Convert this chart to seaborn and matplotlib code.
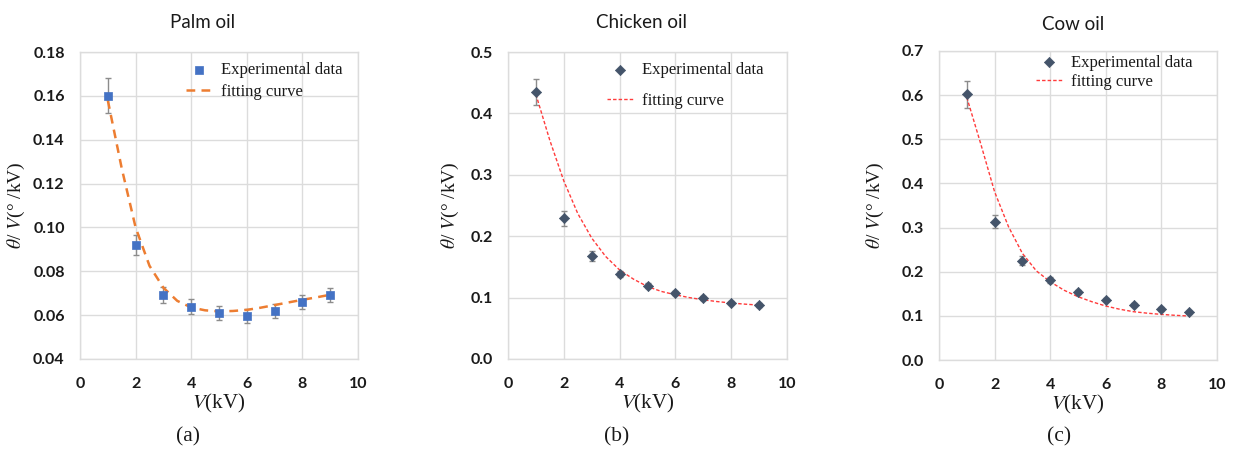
import matplotlib
matplotlib.use("Agg")
import matplotlib.pyplot as plt
import seaborn as sns
import pandas as pd
import numpy as np

# ---------------- data ----------------
voltage = [1, 2, 3, 4, 5, 6, 7, 8, 9]

palm_vals = [0.160, 0.092, 0.0692, 0.0639, 0.0610, 0.0595, 0.0619, 0.0661, 0.0693]
palm_err = [0.0080, 0.0047, 0.0035, 0.0033, 0.0033, 0.0032, 0.0032, 0.0033, 0.0033]

chicken_vals = [0.4345, 0.229, 0.168, 0.138, 0.1197, 0.1078, 0.0991, 0.0920, 0.0878]
chicken_err = [0.021, 0.012, 0.0085, 0.005, 0.004, 0.0035, 0.003, 0.003, 0.003]

cow_vals = [0.602, 0.313, 0.225, 0.181, 0.1547, 0.137, 0.1252, 0.1154, 0.1079]
cow_err = [0.030, 0.015, 0.010, 0.007, 0.005, 0.004, 0.004, 0.004, 0.003]

# fitting curves
fit_x = [1, 1.5, 2, 2.5, 3, 3.5, 4, 4.5, 5, 5.5, 6, 6.5, 7, 7.5, 8, 8.5, 9]
palm_fit = [0.158, 0.127, 0.100, 0.0825, 0.0725, 0.0665, 0.0635, 0.0622, 0.0617, 0.0619, 0.0624,
            0.0634, 0.0646, 0.0658, 0.0670, 0.0681, 0.0693]
chicken_fit = [0.431, 0.356, 0.290, 0.237, 0.197, 0.167, 0.145, 0.130, 0.118, 0.110, 0.1046,
               0.100, 0.0964, 0.0935, 0.0912, 0.0893, 0.0878]
cow_fit = [0.595, 0.490, 0.381, 0.302, 0.2415, 0.202, 0.1773, 0.158, 0.1434, 0.132, 0.1222,
           0.115, 0.1094, 0.106, 0.1033, 0.1012, 0.0996]

titles = ["Palm oil", "Chicken oil", "Cow oil"]
captions = ["(a)", "(b)", "(c)"]
legend_labels = ["Experimental data", "fitting curve"]
x_ticks = [0, 2, 4, 6, 8, 10]
y_ticks_list = [[0.04, 0.06, 0.08, 0.10, 0.12, 0.14, 0.16, 0.18],
                [0.0, 0.1, 0.2, 0.3, 0.4, 0.5],
                [0.0, 0.1, 0.2, 0.3, 0.4, 0.5, 0.6, 0.7]]
y_fmt = ["{:.2f}", "{:.1f}", "{:.1f}"]

# ---------------- style ----------------
sns.set_theme(style="whitegrid")
plt.rcParams["font.family"] = ["Liberation Serif", "DejaVu Serif"]
plt.rcParams["mathtext.fontset"] = "stix"

W, H = 1234, 451
fig = plt.figure(figsize=(W / 100, H / 100), dpi=100)

# axes boxes in pixels (left, right, top, bottom)
boxes = [(80, 358, 52, 359), (508, 787, 52, 359), (939, 1217, 51, 360)]
ylabel_x = [-0.192, -0.170, -0.192]
title_pos = [(203, 22), (641, 22), (1073, 25)]
caption_pos = [(188, 437), (617, 437), (1059, 437)]

series = [
    (palm_vals, palm_err, palm_fit, "s", "#4472C4", 5.6, "#ED7D31", (0, (3.5, 2.5)), 1.8),
    (chicken_vals, chicken_err, chicken_fit, "D", "#44546A", 5.2, "#FF3B3B", (0, (2.5, 1.5)), 1.0),
    (cow_vals, cow_err, cow_fit, "D", "#44546A", 5.2, "#FF3B3B", (0, (2.5, 1.5)), 1.0),
]
legend_locs = [(0.345, 1.0), (0.318, 1.0), (0.312, 1.02)]
legend_spacing = [0.35, 0.9, 0.2]

for i, (vals, err, fit, mk, mc, ms, lc, ls, lw) in enumerate(series):
    l, r, t, b = boxes[i]
    ax = fig.add_axes([l / W, 1 - b / H, (r - l) / W, (b - t) / H])
    ax.set_facecolor("white")

    df_pts = pd.DataFrame({"V": voltage, "y": vals})
    df_fit = pd.DataFrame({"V": fit_x, "y": fit})

    ax.errorbar(voltage, vals, yerr=err, fmt="none", ecolor="#8C8C8C",
                elinewidth=1.0, capsize=2, capthick=1.0, zorder=2)
    sns.lineplot(data=df_fit, x="V", y="y", ax=ax, color=lc, linestyle=ls,
                 linewidth=lw, label=legend_labels[1], zorder=3, sort=False)
    sns.scatterplot(data=df_pts, x="V", y="y", ax=ax, marker=mk, color=mc,
                    s=ms ** 2, edgecolor=mc, linewidth=0.5,
                    label=legend_labels[0], zorder=4)

    ax.set_xlim(0, 10)
    yt = y_ticks_list[i]
    ax.set_ylim(yt[0], yt[-1])
    ax.set_xticks(x_ticks)
    ax.set_yticks(yt)
    ax.set_xticklabels([str(v) for v in x_ticks])
    ax.set_yticklabels([y_fmt[i].format(v) for v in yt])
    for lab in ax.get_xticklabels() + ax.get_yticklabels():
        lab.set_fontfamily("Lato")
        lab.set_fontweight("bold")
        lab.set_fontsize(11.5)
        lab.set_color("#1a1a1a")
    ax.tick_params(axis="both", length=0)
    ax.tick_params(axis="y", pad=11)
    ax.tick_params(axis="x", pad=13)

    ax.grid(True, color="#DCDCDC", linewidth=1.0)
    for sp in ax.spines.values():
        sp.set_color("#DCDCDC")
        sp.set_linewidth(1.0)

    ax.set_xlabel(r"$V$(kV)", fontsize=15, color="#1a1a1a")
    ax.xaxis.set_label_coords(0.5, -0.108)
    ax.set_ylabel(r"$\theta$/ $V$(° /kV)", fontsize=14, color="#1a1a1a")
    ax.yaxis.set_label_coords(ylabel_x[i], 0.5)

    h, lbl = ax.get_legend_handles_labels()
    order = [lbl.index(legend_labels[0]), lbl.index(legend_labels[1])]
    ax.legend([h[k] for k in order], [lbl[k] for k in order], loc="upper left",
              bbox_to_anchor=legend_locs[i], frameon=False, fontsize=12,
              handlelength=1.6, handletextpad=0.5, labelspacing=legend_spacing[i],
              borderaxespad=0.2, labelcolor="#1a1a1a")

    tx, ty = title_pos[i]
    fig.text(tx / W, 1 - ty / H, titles[i], ha="center", va="center",
             fontsize=13.5, family="Lato", color="#1a1a1a")
    cx, cy = caption_pos[i]
    fig.text(cx / W, 1 - cy / H, captions[i], ha="center", va="center",
             fontsize=15.5, color="#1a1a1a")

fig.savefig("out.png", dpi=100, facecolor="white")
